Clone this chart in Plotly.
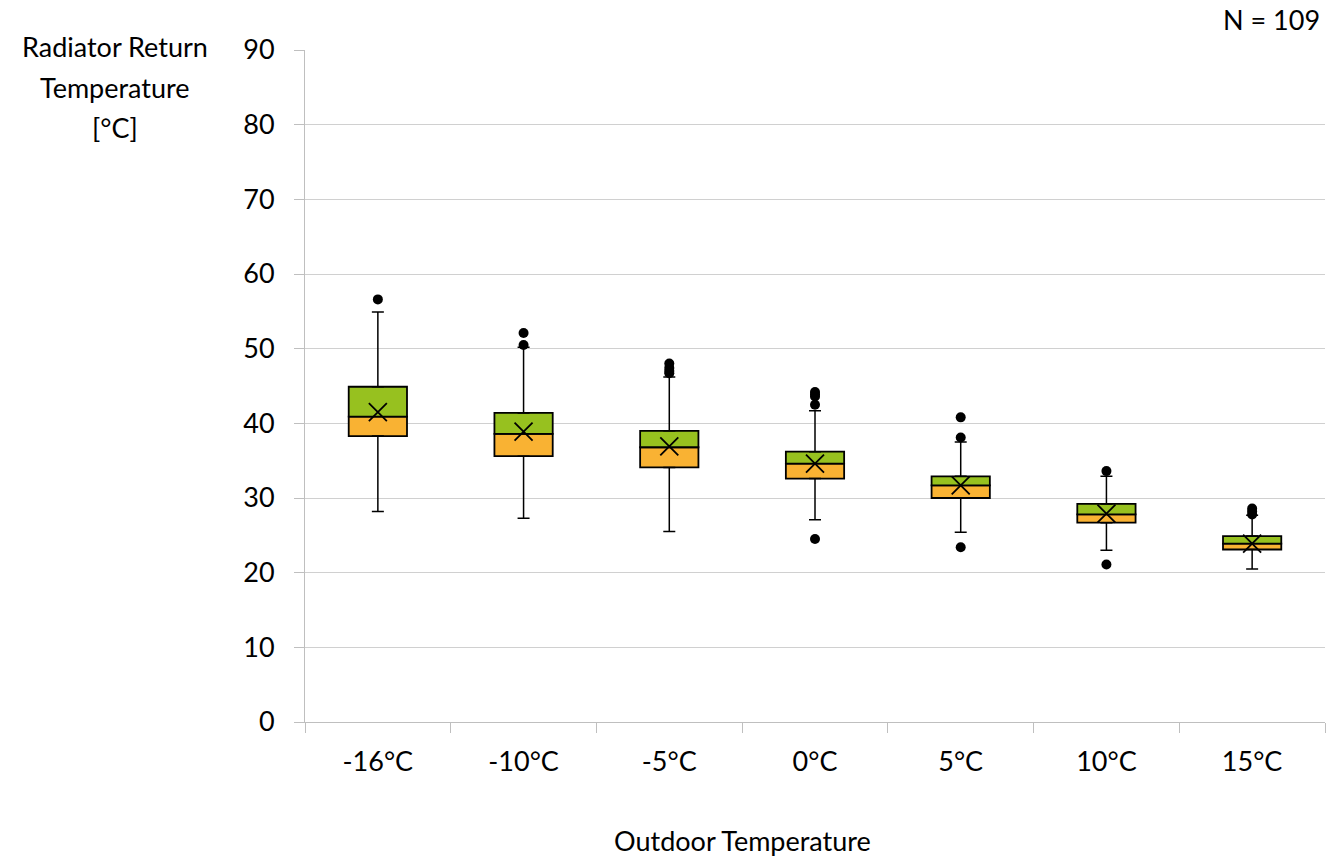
import plotly.graph_objects as go

categories = ["-16°C", "-10°C", "-5°C", "0°C", "5°C", "10°C", "15°C"]
q1 = [38.3, 35.6, 34.1, 32.6, 30.0, 26.7, 23.1]
median = [40.9, 38.6, 36.8, 34.6, 31.7, 27.8, 23.9]
q3 = [44.9, 41.4, 39.0, 36.2, 32.9, 29.2, 24.9]
whisker_low = [28.2, 27.3, 25.5, 27.1, 25.4, 23.0, 20.5]
whisker_high = [54.9, 50.2, 46.2, 41.7, 37.5, 32.9, 27.7]
mean = [41.5, 38.9, 36.9, 34.6, 31.7, 27.9, 23.9]
outlier_cat = ["-16°C", "-10°C", "-10°C", "-5°C", "-5°C", "-5°C", "-5°C",
               "0°C", "0°C", "0°C", "0°C", "0°C",
               "5°C", "5°C", "5°C", "10°C", "10°C",
               "15°C", "15°C", "15°C"]
outlier_val = [56.6, 52.1, 50.5, 48.0, 47.4, 47.0, 46.7,
               44.2, 43.9, 43.6, 42.5, 24.5,
               40.8, 38.1, 23.4, 33.6, 21.1,
               28.6, 28.2, 27.8]
y_ticks = [0, 10, 20, 30, 40, 50, 60, 70, 80, 90]
y_title_lines = ["Radiator Return", "Temperature", "[°C]"]

FONT = "Lato"
FS = 27
GREEN = "#97C11F"
ORANGE = "#F9B233"

fig = go.Figure()

# whiskers (lower and upper) via error bars
fig.add_trace(go.Scatter(
    x=categories, y=q1, mode="markers", marker=dict(size=1, color="rgba(0,0,0,0)"),
    error_y=dict(type="data", symmetric=False,
                 array=[0] * len(q1),
                 arrayminus=[a - b for a, b in zip(q1, whisker_low)],
                 color="black", thickness=1.5, width=6),
    showlegend=False, hoverinfo="skip"))
fig.add_trace(go.Scatter(
    x=categories, y=q3, mode="markers", marker=dict(size=1, color="rgba(0,0,0,0)"),
    error_y=dict(type="data", symmetric=False,
                 array=[a - b for a, b in zip(whisker_high, q3)],
                 arrayminus=[0] * len(q3),
                 color="black", thickness=1.5, width=6),
    showlegend=False, hoverinfo="skip"))

# lower half of box (Q1 -> median)
fig.add_trace(go.Bar(
    x=categories, y=[m - a for m, a in zip(median, q1)], base=q1,
    width=0.4, marker=dict(color=ORANGE, line=dict(color="black", width=1.8)),
    showlegend=False))
# upper half of box (median -> Q3)
fig.add_trace(go.Bar(
    x=categories, y=[a - m for a, m in zip(q3, median)], base=median,
    width=0.4, marker=dict(color=GREEN, line=dict(color="black", width=1.8)),
    showlegend=False))

# mean markers
fig.add_trace(go.Scatter(
    x=categories, y=mean, mode="markers",
    marker=dict(symbol="x-thin-open", size=18, color="black",
                line=dict(color="black", width=1.8)),
    showlegend=False))

# outliers
fig.add_trace(go.Scatter(
    x=outlier_cat, y=outlier_val, mode="markers",
    marker=dict(symbol="circle", size=10, color="black"),
    showlegend=False))

annotations = []
for i, line in enumerate(y_title_lines):
    annotations.append(dict(
        text=line, xref="paper", yref="paper",
        x=(115 - 305) / 1020, y=1 + (50 - (47 + 40 * i)) / 672,
        xanchor="center", yanchor="middle", showarrow=False,
        font=dict(size=FS, family=FONT)))
annotations.append(dict(
    text="N = 109", xref="paper", yref="paper",
    x=(1322 - 305) / 1020, y=1 + (50 - 19) / 672,
    xanchor="right", yanchor="middle", showarrow=False,
    font=dict(size=FS, family=FONT)))
annotations.append(dict(
    text="Outdoor Temperature", xref="paper", yref="paper",
    x=(742 - 305) / 1020, y=(722 - 840) / 672,
    xanchor="center", yanchor="middle", showarrow=False,
    font=dict(size=FS, family=FONT)))

fig.update_layout(
    width=1328, height=857,
    margin=dict(l=305, r=3, t=50, b=135),
    paper_bgcolor="white", plot_bgcolor="white",
    barmode="overlay",
    font=dict(family=FONT, size=FS, color="black"),
    xaxis=dict(type="category", categoryorder="array", categoryarray=categories,
               tickson="boundaries", ticks="outside", ticklen=10, tickcolor="#BFBFBF",
               showline=True, linecolor="#BFBFBF", linewidth=1,
               showgrid=False, tickfont=dict(size=FS, family=FONT), ticklabelstandoff=16),
    yaxis=dict(range=[0, 90], tickvals=y_ticks, ticks="outside", ticklen=10,
               tickcolor="#BFBFBF", showline=True, linecolor="#BFBFBF", linewidth=1,
               showgrid=True, gridcolor="#D0D0D0", gridwidth=1, zeroline=False,
               tickfont=dict(size=FS, family=FONT), ticklabelstandoff=14),
    annotations=annotations,
)

fig.write_html("out.html", config={"displayModeBar": False},
               post_script="document.body.style.margin='0';document.body.style.overflow='hidden';")
